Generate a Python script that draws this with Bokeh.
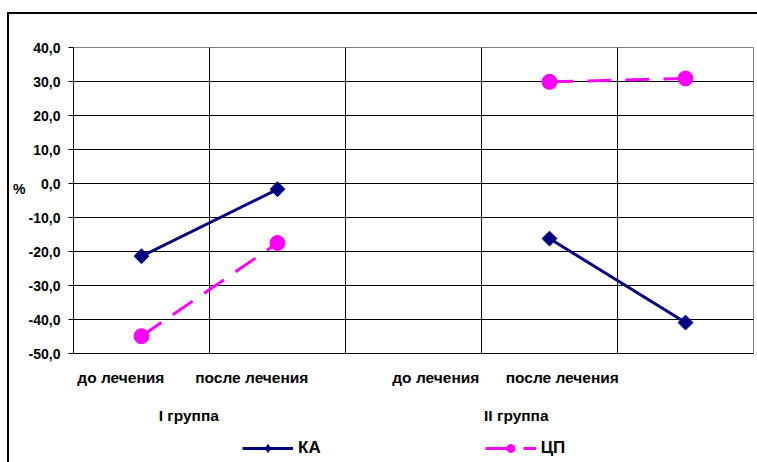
import numpy as np
from bokeh.plotting import figure
from bokeh.layouts import column
from bokeh.models import (Range1d, LinearAxis, FixedTicker, Grid, Legend,
                          LegendItem)
from bokeh.embed import file_html
from bokeh.resources import INLINE

# ---- data ----
stages = ["до лечения", "после лечения", "до лечения", "после лечения"]
groups = ["I группа", "II группа"]
series_names = ["КА", "ЦП"]
unit = "%"
slots = [0.5, 1.5, 2.5, 3.5, 4.5]          # category slot centres (slot 3 empty)
ka = [-21.4, -1.7, np.nan, -16.2, -40.9]
cp = [-44.9, -17.5, np.nan, 29.9, 30.9]
y_ticks = [-50, -40, -30, -20, -10, 0, 10, 20, 30, 40]

# ---- layout constants ----
stage_pos = [0.348, 1.311, 2.664, 3.594]
group_pos = [0.848, 3.256]
unit_pos = -1.5
FONT = "Liberation Sans"
NAVY = "#000080"
MAGENTA = "#FF00FF"

p = figure(width=748, height=418, frame_width=680, frame_height=306,
           x_range=Range1d(0, 5), y_range=Range1d(-50, 40),
           x_axis_type=None, output_backend="svg", toolbar_location=None,
           min_border_left=64, min_border_top=33, min_border_right=4,
           min_border_bottom=79)
p.background_fill_color = "white"
p.border_fill_color = "white"
p.outline_line_color = "#808080"
p.outline_line_width = 1

# y axis
p.yaxis.ticker = FixedTicker(ticks=y_ticks)
p.yaxis.major_label_overrides = {v: f"{v:.1f}".replace(".", ",") for v in y_ticks}
p.yaxis.major_label_text_font = FONT
p.yaxis.major_label_text_font_style = "bold"
p.yaxis.major_label_text_font_size = "14px"
p.yaxis.major_label_text_color = "black"
p.yaxis.axis_line_color = "black"
p.yaxis.major_tick_line_color = "black"
p.yaxis.major_tick_in = 0
p.yaxis.major_tick_out = 5
p.yaxis.minor_tick_line_color = None
p.yaxis.major_label_standoff = 8

# "%" unit label as an outer left axis
uax = LinearAxis(ticker=FixedTicker(ticks=[unit_pos]),
                 major_label_overrides={unit_pos: unit},
                 axis_line_color=None, major_tick_line_color=None,
                 minor_tick_line_color=None, major_tick_in=0, major_tick_out=0,
                 major_label_standoff=0, major_label_text_font=FONT,
                 major_label_text_font_style="bold",
                 major_label_text_font_size="14px",
                 major_label_text_color="black")
p.add_layout(uax, "left")

p.ygrid.ticker = FixedTicker(ticks=y_ticks[1:-1])
p.ygrid.grid_line_color = "black"
p.ygrid.grid_line_alpha = 1
p.ygrid.grid_line_width = 1

xgrid = Grid(dimension=0, ticker=FixedTicker(ticks=[1, 2, 3, 4]),
             grid_line_color="black", grid_line_width=1)
p.add_layout(xgrid)

# x axes (stage labels, group labels)
ax1 = LinearAxis(ticker=FixedTicker(ticks=stage_pos),
                 major_label_overrides={pos: lab for pos, lab in zip(stage_pos, stages)})
ax2 = LinearAxis(ticker=FixedTicker(ticks=group_pos),
                 major_label_overrides={pos: lab for pos, lab in zip(group_pos, groups)})
for ax, standoff in ((ax1, 15), (ax2, 18)):
    ax.major_tick_line_color = None
    ax.minor_tick_line_color = None
    ax.major_tick_out = 0
    ax.major_tick_in = 0
    ax.major_label_standoff = standoff
    ax.major_label_text_font = FONT
    ax.major_label_text_font_style = "bold"
    ax.major_label_text_font_size = "15.5px"
    ax.major_label_text_color = "black"
ax1.axis_line_color = "black"
ax2.axis_line_color = None
p.add_layout(ax1, "below")
p.add_layout(ax2, "below")

# series
p.line(slots, ka, line_color=NAVY, line_width=3)
p.scatter(slots, ka, marker="square", angle=np.pi / 4, size=10.5,
          fill_color=NAVY, line_color=NAVY)
p.line(slots, cp, line_color=MAGENTA, line_width=3, line_dash="24 14")
p.scatter(slots, cp, marker="circle", size=15,
          fill_color=MAGENTA, line_color=MAGENTA)

# legend row (separate strip under the chart); its renderers carry the same
# series but the strip's ranges keep them out of view, only the legend shows
q = figure(width=748, height=30, x_range=Range1d(0, 748), y_range=Range1d(1000, 1030),
           x_axis_type=None, y_axis_type=None, output_backend="svg",
           toolbar_location=None, min_border=0)
q.outline_line_color = None
q.background_fill_color = "white"
q.border_fill_color = "white"
kl = q.line(slots, ka, line_color=NAVY, line_width=3)
ks = q.scatter(slots, ka, marker="diamond", size=11, fill_color=NAVY, line_color=NAVY)
cl = q.line(slots, cp, line_color=MAGENTA, line_width=3, line_dash="24 14")
cs = q.scatter(slots, cp, marker="circle", size=10, fill_color=MAGENTA, line_color=MAGENTA)
legend = Legend(items=[LegendItem(label=series_names[0], renderers=[kl, ks]),
                       LegendItem(label=series_names[1], renderers=[cl, cs])],
                orientation="horizontal", location=(169, 4),
                glyph_width=51, glyph_height=20, label_height=20,
                label_standoff=5, spacing=164, padding=0, margin=0,
                border_line_alpha=0, background_fill_alpha=0,
                label_text_font=FONT, label_text_font_style="bold",
                label_text_font_size="17px", label_text_color="black")
q.add_layout(legend)

layout = column(p, q, spacing=0)
layout.styles = {"border-left": "2px solid #000", "border-top": "2px solid #000",
                 "margin-top": "12px", "margin-left": "7px"}

open("out.html", "w").write(file_html(layout, INLINE))
